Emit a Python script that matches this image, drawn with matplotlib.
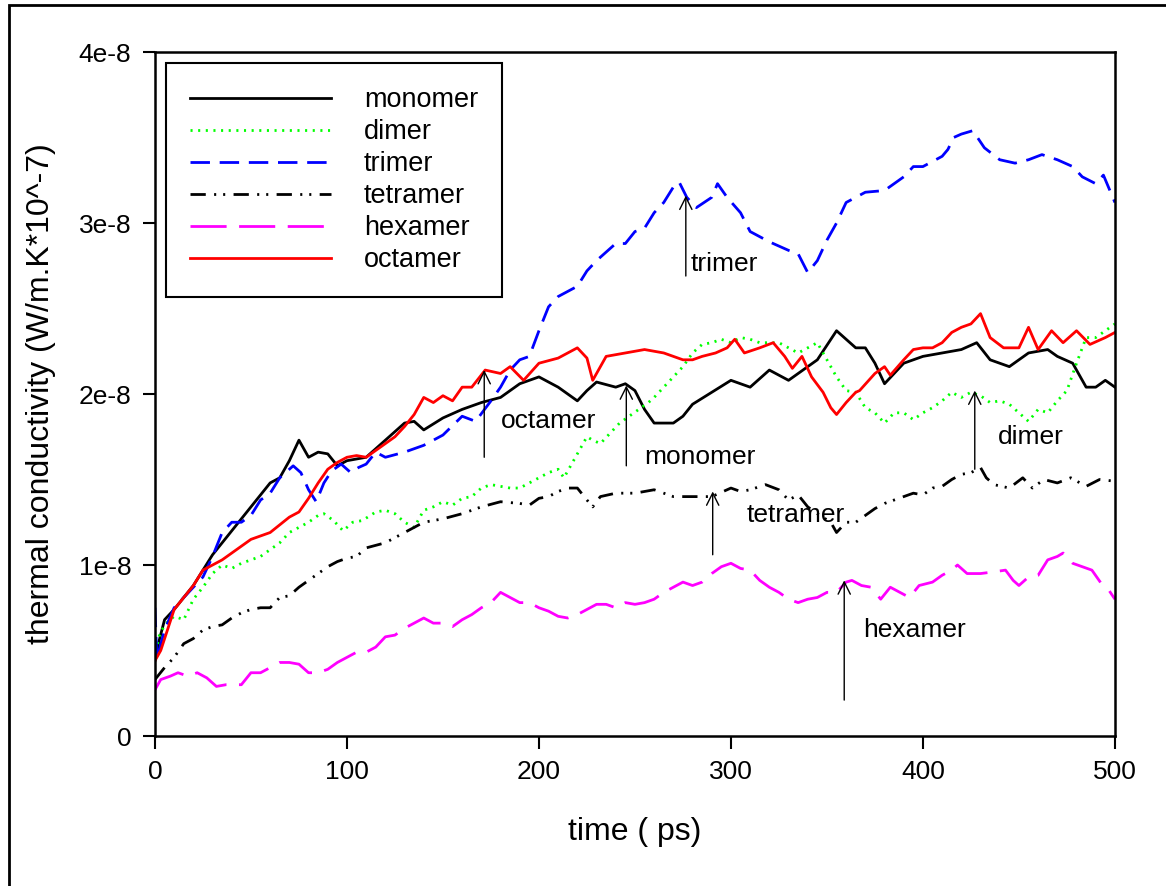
import numpy as np
import matplotlib
matplotlib.use("Agg")
import matplotlib.pyplot as plt
from matplotlib.patches import Rectangle

plt.rcParams['font.family'] = ['Liberation Sans', 'DejaVu Sans']
plt.rcParams['lines.scale_dashes'] = False

SCALE = 1e-8  # values below are in units of 1e-8 W/m.K

# monomer
t_mono = [0, 2, 5, 10, 20, 30, 40, 50, 60, 65, 70, 75, 80, 85, 90, 95, 100, 110, 120,
          130, 135, 140, 150, 160, 170, 180, 190, 200, 210, 220, 225, 230, 240, 245,
          250, 255, 260, 270, 275, 280, 290, 300, 310, 320, 330, 340, 345, 355, 365,
          370, 375, 380, 385, 390, 400, 410, 420, 428, 435, 445, 455, 465, 470, 478,
          485, 490, 495, 500]
k_mono = [0.44, 0.55, 0.68, 0.74, 0.88, 1.06, 1.20, 1.34, 1.48, 1.51, 1.61, 1.73, 1.63,
          1.66, 1.65, 1.58, 1.61, 1.63, 1.73, 1.83, 1.84, 1.79, 1.86, 1.91, 1.95, 1.98,
          2.06, 2.10, 2.04, 1.96, 2.02, 2.07, 2.04, 2.06, 2.02, 1.91, 1.83, 1.83, 1.87,
          1.94, 2.01, 2.08, 2.04, 2.14, 2.08, 2.16, 2.20, 2.37, 2.27, 2.27, 2.18, 2.06,
          2.12, 2.18, 2.22, 2.24, 2.26, 2.30, 2.20, 2.16, 2.24, 2.26, 2.22, 2.18, 2.04,
          2.04, 2.08, 2.04]

# dimer
t_di = [0, 2, 5, 10, 15, 20, 25, 30, 35, 40, 45, 50, 55, 60, 65, 70, 75, 80, 85, 88, 93,
        98, 103, 108, 115, 120, 125, 130, 135, 140, 145, 150, 155, 160, 165, 170, 175,
        180, 185, 190, 195, 200, 205, 210, 213, 218, 222, 225, 228, 232, 237, 242, 247,
        252, 257, 260, 265, 270, 275, 280, 285, 290, 295, 300, 305, 310, 315, 320, 325,
        330, 335, 340, 345, 350, 355, 360, 365, 370, 375, 380, 385, 390, 395, 400, 405,
        410, 415, 420, 425, 430, 435, 440, 445, 450, 455, 460, 465, 470, 475, 480, 485,
        490, 495, 500]
k_di = [0.45, 0.58, 0.65, 0.70, 0.68, 0.80, 0.87, 0.95, 1.00, 0.98, 1.01, 1.03, 1.05,
        1.09, 1.13, 1.19, 1.22, 1.25, 1.29, 1.30, 1.26, 1.20, 1.25, 1.26, 1.31, 1.32,
        1.30, 1.25, 1.22, 1.32, 1.34, 1.37, 1.35, 1.39, 1.40, 1.45, 1.47, 1.46, 1.45,
        1.45, 1.48, 1.51, 1.54, 1.56, 1.51, 1.61, 1.69, 1.75, 1.73, 1.71, 1.77, 1.83,
        1.87, 1.91, 1.95, 1.98, 2.04, 2.10, 2.16, 2.24, 2.29, 2.30, 2.32, 2.30, 2.33,
        2.32, 2.30, 2.30, 2.30, 2.27, 2.24, 2.27, 2.30, 2.20, 2.10, 2.02, 2.01, 1.92,
        1.89, 1.83, 1.89, 1.89, 1.85, 1.89, 1.92, 1.96, 2.01, 1.98, 2.01, 1.99, 1.95,
        1.96, 1.94, 1.89, 1.84, 1.91, 1.89, 1.96, 2.02, 2.18, 2.33, 2.33, 2.37, 2.41]

# trimer
t_tri = [0, 1, 5, 10, 20, 25, 30, 35, 40, 45, 50, 55, 60, 65, 72, 76, 80, 84, 88, 92, 97,
         102, 106, 110, 115, 120, 130, 140, 150, 160, 167, 175, 180, 185, 190, 195, 200,
         205, 210, 220, 225, 230, 240, 245, 250, 255, 260, 265, 270, 273, 277, 282, 290,
         293, 298, 305, 310, 320, 330, 335, 340, 345, 350, 355, 360, 365, 370, 380, 390,
         395, 400, 410, 413, 416, 420, 426, 432, 440, 448, 455, 462, 470, 478, 483, 490,
         494, 500]
k_tri = [0.75, 0.45, 0.62, 0.75, 0.87, 0.93, 1.05, 1.19, 1.25, 1.25, 1.29, 1.38, 1.42,
         1.51, 1.58, 1.54, 1.44, 1.37, 1.48, 1.55, 1.59, 1.54, 1.57, 1.59, 1.66, 1.63,
         1.66, 1.70, 1.76, 1.87, 1.84, 1.96, 2.04, 2.14, 2.20, 2.22, 2.37, 2.51, 2.57,
         2.63, 2.72, 2.78, 2.88, 2.88, 2.95, 2.97, 3.06, 3.12, 3.21, 3.24, 3.15, 3.09,
         3.15, 3.23, 3.15, 3.06, 2.95, 2.89, 2.84, 2.82, 2.71, 2.78, 2.90, 3.00, 3.12,
         3.15, 3.18, 3.19, 3.27, 3.33, 3.33, 3.39, 3.43, 3.50, 3.52, 3.54, 3.44, 3.37,
         3.35, 3.37, 3.40, 3.37, 3.33, 3.27, 3.23, 3.28, 3.12]

# tetramer
t_tet = [0, 5, 10, 15, 20, 25, 30, 35, 40, 45, 50, 55, 60, 65, 70, 75, 80, 85, 90, 95,
         100, 105, 110, 120, 130, 140, 150, 160, 170, 180, 190, 195, 200, 205, 210, 215,
         220, 225, 228, 232, 240, 250, 260, 270, 280, 290, 300, 305, 310, 318, 325, 330,
         335, 340, 345, 352, 355, 360, 365, 370, 375, 380, 385, 390, 395, 400, 405, 410,
         415, 420, 425, 430, 433, 437, 445, 452, 457, 463, 470, 477, 485, 492, 500]
k_tet = [0.33, 0.40, 0.46, 0.54, 0.57, 0.62, 0.64, 0.65, 0.69, 0.72, 0.74, 0.75, 0.75,
         0.81, 0.82, 0.87, 0.91, 0.95, 0.99, 1.02, 1.04, 1.05, 1.10, 1.13, 1.19, 1.25,
         1.27, 1.30, 1.34, 1.37, 1.36, 1.35, 1.39, 1.40, 1.43, 1.45, 1.45, 1.38, 1.34,
         1.40, 1.42, 1.42, 1.44, 1.40, 1.40, 1.40, 1.45, 1.43, 1.44, 1.47, 1.44, 1.38,
         1.41, 1.34, 1.30, 1.25, 1.19, 1.25, 1.25, 1.29, 1.33, 1.36, 1.38, 1.40, 1.42,
         1.41, 1.45, 1.46, 1.50, 1.53, 1.54, 1.57, 1.51, 1.47, 1.45, 1.51, 1.45, 1.50,
         1.48, 1.51, 1.46, 1.50, 1.49]

# hexamer
t_hex = [0, 3, 8, 12, 17, 22, 27, 32, 37, 45, 50, 55, 60, 65, 70, 75, 80, 85, 90, 95, 100,
         105, 110, 115, 120, 125, 130, 135, 140, 145, 150, 155, 160, 165, 170, 175, 180,
         185, 190, 195, 200, 205, 210, 215, 220, 225, 230, 235, 240, 245, 250, 255, 260,
         265, 270, 275, 280, 285, 290, 295, 300, 305, 310, 315, 320, 325, 330, 335, 340,
         345, 350, 355, 360, 363, 368, 373, 378, 383, 388, 393, 398, 405, 410, 415, 418,
         423, 430, 437, 443, 447, 450, 455, 460, 465, 470, 473, 478, 483, 488, 493, 497,
         500]
k_hex = [0.27, 0.33, 0.35, 0.37, 0.35, 0.37, 0.34, 0.29, 0.30, 0.30, 0.37, 0.37, 0.40,
         0.43, 0.43, 0.42, 0.37, 0.37, 0.39, 0.43, 0.46, 0.49, 0.49, 0.52, 0.58, 0.59,
         0.63, 0.66, 0.69, 0.66, 0.66, 0.64, 0.68, 0.71, 0.75, 0.78, 0.84, 0.81, 0.78,
         0.78, 0.75, 0.73, 0.70, 0.69, 0.71, 0.74, 0.77, 0.77, 0.75, 0.78, 0.77, 0.78,
         0.80, 0.84, 0.87, 0.90, 0.88, 0.90, 0.95, 0.99, 1.01, 0.98, 0.97, 0.91, 0.87,
         0.84, 0.80, 0.78, 0.80, 0.81, 0.84, 0.84, 0.90, 0.91, 0.88, 0.87, 0.80, 0.87,
         0.84, 0.81, 0.88, 0.90, 0.94, 0.97, 1.00, 0.95, 0.95, 0.96, 0.97, 0.91, 0.88,
         0.93, 0.94, 1.03, 1.05, 1.07, 1.01, 0.99, 0.97, 0.89, 0.85, 0.80]

# octamer
t_oct = [0, 3, 10, 20, 25, 30, 35, 40, 50, 60, 70, 75, 80, 85, 90, 95, 100, 105, 110,
         120, 125, 130, 135, 140, 145, 150, 155, 160, 165, 172, 180, 185, 192, 200, 210,
         220, 225, 228, 235, 245, 255, 265, 275, 280, 285, 292, 298, 302, 307, 315, 322,
         328, 332, 337, 342, 348, 352, 355, 360, 365, 367, 375, 380, 383, 390, 395, 400,
         405, 410, 415, 420, 425, 430, 435, 442, 450, 455, 460, 467, 473, 480, 487, 495,
         500]
k_oct = [0.44, 0.50, 0.74, 0.88, 0.97, 1.00, 1.03, 1.07, 1.15, 1.19, 1.28, 1.31, 1.39,
         1.48, 1.56, 1.60, 1.63, 1.64, 1.63, 1.71, 1.75, 1.81, 1.88, 1.98, 1.95, 1.99,
         1.96, 2.04, 2.04, 2.14, 2.12, 2.16, 2.08, 2.18, 2.21, 2.27, 2.21, 2.08, 2.22,
         2.24, 2.26, 2.24, 2.20, 2.20, 2.22, 2.24, 2.27, 2.32, 2.24, 2.27, 2.30, 2.22,
         2.15, 2.22, 2.10, 2.01, 1.92, 1.88, 1.95, 2.01, 2.02, 2.12, 2.16, 2.11, 2.20,
         2.26, 2.27, 2.27, 2.30, 2.36, 2.39, 2.41, 2.47, 2.33, 2.27, 2.27, 2.39, 2.26,
         2.37, 2.30, 2.37, 2.29, 2.33, 2.36]

# (label, arrow time, arrow tail, arrow head, text time, text value)
notes = [
    ("trimer", 276.5, 2.69, 3.16, 279, 2.76),
    ("octamer", 171.5, 1.63, 2.14, 180, 1.84),
    ("monomer", 245.5, 1.58, 2.05, 255, 1.63),
    ("tetramer", 290.5, 1.06, 1.43, 308, 1.29),
    ("hexamer", 359, 0.21, 0.91, 369, 0.62),
    ("dimer", 427, 1.56, 2.02, 439, 1.75),
]

fig = plt.figure(figsize=(11.66, 8.86), dpi=100)
ax = fig.add_axes([0.1329, 0.1693, 0.8233, 0.772])

series = [
    ("monomer", t_mono, k_mono, dict(color="black", ls="-")),
    ("dimer", t_di, k_di, dict(color="#00ff00", ls=(0, (1.5, 4.0)))),
    ("trimer", t_tri, k_tri, dict(color="#0000ff", ls=(0, (14, 7)))),
    ("tetramer", t_tet, k_tet, dict(color="black", ls=(0, (11, 6, 1.5, 5, 1.5, 6)))),
    ("hexamer", t_hex, k_hex, dict(color="#ff00ff", ls=(0, (26, 9)))),
    ("octamer", t_oct, k_oct, dict(color="#ff0000", ls="-")),
]
for name, t, k, style in series:
    ax.plot(t, np.array(k) * SCALE, lw=2.0, label=name, **style)

for label, tx, y0, y1, lx, ly in notes:
    ax.annotate("", xy=(tx, y1 * SCALE), xytext=(tx, y0 * SCALE),
                arrowprops=dict(arrowstyle="->", color="black", lw=1.0,
                                mutation_scale=22, shrinkA=0, shrinkB=0))
    ax.text(lx, ly * SCALE, label, fontsize=19, ha="left", va="center")

ax.set_xlim(0, 500)
ax.set_ylim(0, 4e-8)
ax.set_xticks([0, 100, 200, 300, 400, 500])
ax.set_yticks(np.array([0, 1, 2, 3, 4]) * SCALE)
ax.set_yticklabels(["0", "1e-8", "2e-8", "3e-8", "4e-8"])
ax.tick_params(direction="out", length=9, width=1.5, labelsize=19, pad=8)
for side in ax.spines.values():
    side.set_linewidth(1.8)

ax.set_xlabel("time ( ps)", fontsize=23, labelpad=24)
ax.set_ylabel("thermal conductivity (W/m.K*10^-7)", fontsize=23, labelpad=16)

leg = ax.legend(loc="upper left", bbox_to_anchor=(0.0115, 0.984), fontsize=19.5,
                frameon=True, fancybox=False, edgecolor="black", framealpha=1,
                handlelength=5.2, handletextpad=1.2, labelspacing=0.22,
                borderpad=0.9, borderaxespad=0)
leg.get_frame().set_linewidth(1.5)

# outer frame around the figure
fig.patches.append(Rectangle((0.0077, -0.05), 1.1, 1.044, transform=fig.transFigure,
                             fill=False, edgecolor="black", lw=2))

fig.savefig("out.png", dpi=100)
